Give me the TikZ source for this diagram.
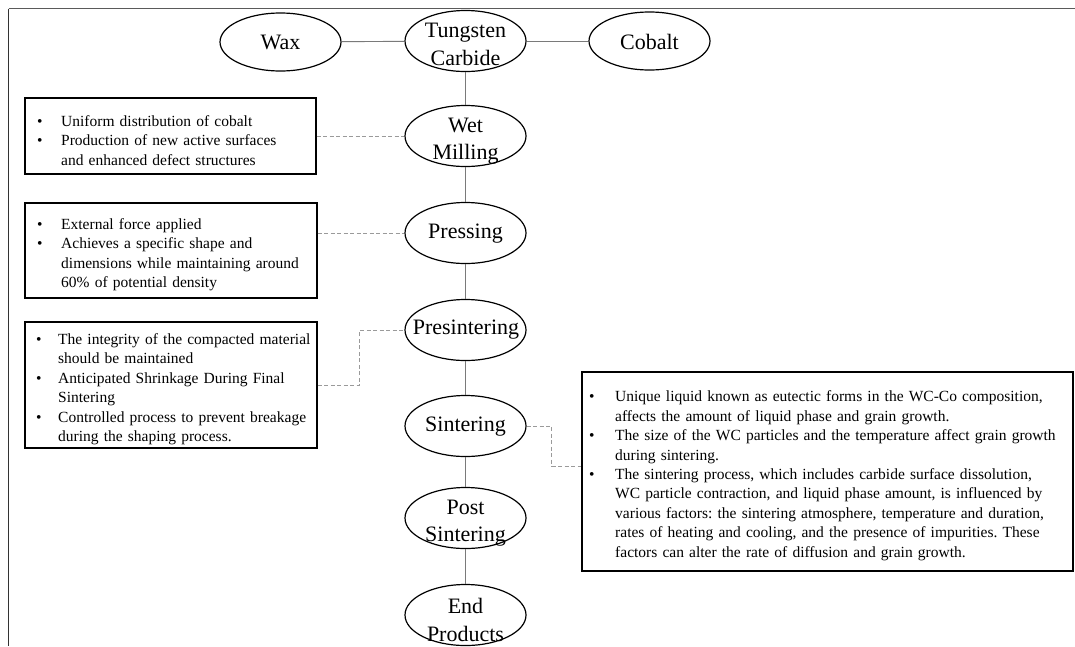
\documentclass[tikz,border=0pt]{standalone}
\usepackage{fontspec}
\setmainfont{Liberation Serif}
\usetikzlibrary{shapes.geometric}
\frenchspacing
\definecolor{solidc}{HTML}{7A7A7A}
\definecolor{dashc}{HTML}{9A9A9A}
\definecolor{frametop}{HTML}{5A5A5A}
\definecolor{frameleft}{HTML}{333333}
\newlength{\bhang}
\setlength{\bhang}{24pt}
\newcommand{\bitem}[1]{\par\hangindent=\bhang\hangafter=1\noindent\makebox[\bhang][l]{\textbullet}#1\par}
\begin{document}
\begin{tikzpicture}[x=1pt,y=-1pt,
  stage/.style={ellipse, draw=black, line width=1.2pt, minimum width=121pt, minimum height=61pt, inner sep=0pt},
  stagetext/.style={font=\fontsize{22}{27.5}\selectfont, align=center, inner sep=0pt},
  box/.style={draw=black, line width=1.3pt, inner sep=0pt},
  boxtext/.style={font=\fontsize{15.5}{19.4}\selectfont, inner sep=0pt, anchor=west, text width=#1},
  slink/.style={draw=solidc, line width=0.9pt},
  dlink/.style={draw=dashc, line width=0.9pt, dash pattern=on 4pt off 2.5pt}]
\useasboundingbox (0,0) rectangle (1075,646);
% frame
\draw[frametop, line width=1.8pt] (8.5,8.5) -- (1075,8.5);
\draw[frameleft, line width=1.6pt] (8.5,8.5) -- (8.5,646);
% stages
\node[stage] (tc) at (465.5,41) {};
\node[stagetext] (tct) at (465.5,44.5) {Tungsten\\Carbide};
\node[stage, minimum height=58pt] (wax) at (280.5,42) {};
\node[stagetext] (waxt) at (280.5,42) {Wax};
\node[stage, minimum height=58pt] (co) at (649.5,41) {};
\node[stagetext] (cot) at (649.5,42) {Cobalt};
\node[stage] (wm) at (465.5,136) {};
\node[stagetext] (wmt) at (465.5,141) {Wet\\Milling};
\node[stage] (pr) at (465.5,233) {};
\node[stagetext] (prt) at (465.5,234) {Pressing};
\node[stage] (ps) at (465.5,330) {};
\node[stagetext] (pst) at (466,330) {Presintering};
\node[stage] (si) at (465.5,426) {};
\node[stagetext] (sit) at (465.5,427) {Sintering};
\node[stage] (po) at (465.5,518) {};
\node[stagetext] (pot) at (465.5,523) {Post\\Sintering};
\node[stage] (ep) at (465.5,615) {};
\node[stagetext] (ept) at (465.5,620) {End\\Products};
% solid connectors
\draw[slink] (wax) -- (tc);
\draw[slink] (tc) -- (co);
\draw[slink] (tc) -- (wm);
\draw[slink] (wm) -- (pr);
\draw[slink] (pr) -- (ps);
\draw[slink] (ps) -- (si);
\draw[slink] (si) -- (po);
\draw[slink] (po) -- (ep);
% boxes
\node[box, minimum width=291pt, minimum height=76pt] (b1) at (170.5,136) {};
\node[boxtext=281pt] (b1t) at (37,136) {\setlength{\bhang}{24pt}%
\bitem{Uniform distribution of cobalt}%
\bitem{Production of new active surfaces\newline and enhanced defect structures}};
\node[box, minimum width=292pt, minimum height=95pt] (b2) at (171,250.5) {};
\node[boxtext=281pt] (b2t) at (37,250.5) {\setlength{\bhang}{24pt}%
\bitem{External force applied}%
\bitem{Achieves a specific shape and\newline dimensions while maintaining around\newline 60\% of potential density}};
\node[box, minimum width=292pt, minimum height=126pt] (b3) at (171,385) {};
\node[boxtext=283pt] (b3t) at (36,385) {\setlength{\bhang}{22pt}%
\bitem{The integrity of the compacted material\newline should be maintained}%
\bitem{Anticipated Shrinkage During Final\newline Sintering}%
\bitem{Controlled process to prevent breakage\newline during the shaping process.}};
\node[box, minimum width=491pt, minimum height=199pt] (b4) at (827.5,471.5) {};
\node[boxtext=482pt] (b4t) at (589,471.5) {\setlength{\bhang}{26pt}%
\bitem{Unique liquid known as eutectic forms in the WC-Co composition,\newline affects the amount of liquid phase and grain growth.}%
\bitem{The size of the WC particles and the temperature affect grain growth\newline during sintering.}%
\bitem{The sintering process, which includes carbide surface dissolution,\newline WC particle contraction, and liquid phase amount, is influenced by\newline various factors: the sintering atmosphere, temperature and duration,\newline rates of heating and cooling, and the presence of impurities. These\newline factors can alter the rate of diffusion and grain growth.}};
% dashed connectors
\draw[dlink] (b1.east) -- (wm.west);
\draw[dlink] (pr.west -| b2.east) -- (pr.west);
\draw[dlink] (b3.east) -- ++(42,0) |- (ps.west);
\draw[dlink] (si.east) -- ++(25,0) |- ([yshift=5.5pt]b4.west);
\end{tikzpicture}
\end{document}
